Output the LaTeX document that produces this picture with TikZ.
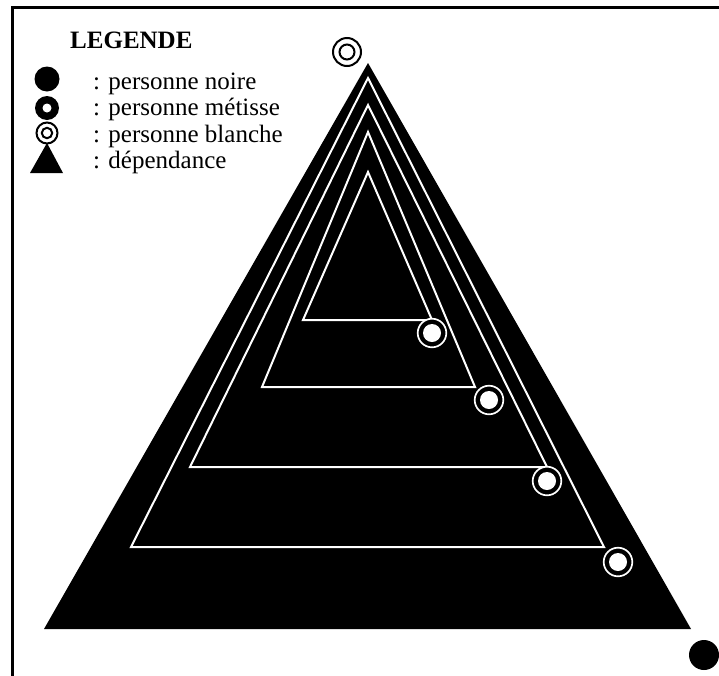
\documentclass[tikz,border=0pt]{standalone}
\usepackage{fontspec}
\setmainfont{Liberation Serif}
\begin{document}
\begin{tikzpicture}[x=1pt,y=-1pt,
  txt/.style={anchor=base west, inner sep=0pt, font=\fontsize{25}{30}\selectfont},
  wline/.style={draw=white, line width=2pt, line join=miter},
  metisse/.style={fill=black, draw=white, line width=1.7pt},
  blanche/.style={draw=black, line width=2pt, fill=white}]
\useasboundingbox (0,0) rectangle (719,675);
% frame
\draw[line width=3pt] (12,676) -- (12,7.5) -- (722,7.5);
% big triangle
\coordinate (T) at (368,63);
\coordinate (L) at (44,629);
\coordinate (R) at (691,629);
\fill[black] (L) -- (R) -- (T) -- cycle;
% nested dependencies
\coordinate (aT) at (368,78);  \coordinate (aL) at (131,547); \coordinate (aR) at (604,547);
\coordinate (bT) at (368,105); \coordinate (bL) at (190,467); \coordinate (bR) at (547,467);
\coordinate (cT) at (368,132); \coordinate (cL) at (262,387); \coordinate (cR) at (475,387);
\coordinate (dT) at (368,172); \coordinate (dL) at (303,320); \coordinate (dR) at (432,320);
\draw[wline] (aT) -- (aL) -- (aR) -- cycle;
\draw[wline] (bT) -- (bL) -- (bR) -- cycle;
\draw[wline] (cT) -- (cL) -- (cR) -- cycle;
\draw[wline] (dT) -- (dL) -- (dR) -- cycle;
% metisse persons
\foreach \p/\q in {618/562, 547/481, 489/400, 432/333}{
  \draw[metisse] (\p,\q) circle (14.3);
  \fill[white] (\p,\q) circle (9);
}
% white person at top
\draw[blanche] (347,52) circle (14);
\draw[blanche] (347,52) circle (7.5);
% black person bottom right
\fill[black] (704,655) circle (15);
% legend
\node[txt, font=\fontsize{25}{30}\selectfont\bfseries] (lg) at (70,48) {LEGENDE};
\fill[black] (47,79) circle (12.5);
\fill[black] (47,108) circle (12);
\fill[white] (47,108) circle (4.5);
\draw[black, line width=2pt] (47,133) circle (10.5);
\draw[black, line width=2pt] (47,133) circle (5.2);
\fill[black] (47,143) -- (63,173) -- (30,173) -- cycle;
\node[txt] (l1) at (93,89) {: personne noire};
\node[txt] (l2) at (93,115.5) {: personne métisse};
\node[txt] (l3) at (93,142) {: personne blanche};
\node[txt] (l4) at (93,168) {: dépendance};
\end{tikzpicture}
\end{document}
